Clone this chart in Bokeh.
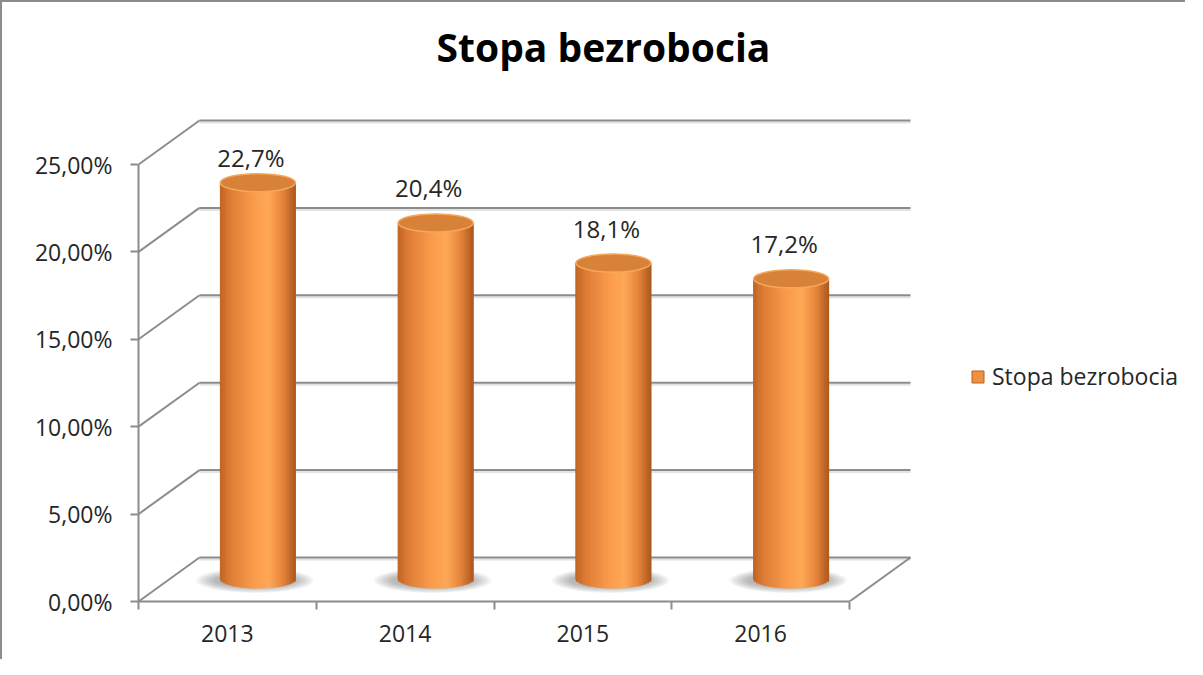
import numpy as np
from bokeh.plotting import figure
from bokeh.models import Range1d, FixedTicker, Legend, LegendItem, LinearAxis
from bokeh.core.properties import value
from bokeh.embed import file_html
from bokeh.resources import INLINE

# ---------------- data ----------------
YEARS = ["2013", "2014", "2015", "2016"]
RATES = [22.7, 20.4, 18.1, 17.2]
Y_TICKS = [0, 5, 10, 15, 20, 25]
Y_TICK_LABELS = ["0,00%", "5,00%", "10,00%", "15,00%", "20,00%", "25,00%"]
SERIES_NAME = "Stopa bezrobocia"
TITLE = "Stopa bezrobocia"

# ---------------- geometry / style ----------------
PX_X = 177.75          # px per category
PX_Y = 17.48           # px per percent
DEPTH_DX_PX = 61
DEPTH_DY_PX = 44
W, H = 1185, 659
BORDER_LEFT = 136
BORDER_BOTTOM = 60
FRAME_W = W - BORDER_LEFT
FRAME_H = H - BORDER_BOTTOM
DX = DEPTH_DX_PX / PX_X
DY = DEPTH_DY_PX / PX_Y
GRAY = "#8c8c8c"
TXT = "#262626"
FONT = "Open Sans"
FS = "23px"

n = len(YEARS)
rates = np.array(RATES, dtype=float)
ticks = np.array(Y_TICKS, dtype=float)

p = figure(width=W, height=H, output_backend="svg", toolbar_location=None, tools="",
           x_range=Range1d(0, FRAME_W / PX_X), y_range=Range1d(0, FRAME_H / PX_Y),
           x_axis_type=None, y_axis_type=None,
           min_border_left=BORDER_LEFT, min_border_right=0,
           min_border_top=0, min_border_bottom=BORDER_BOTTOM)
p.outline_line_color = None
p.background_fill_color = "white"
p.border_fill_color = "white"
p.styles = {"border-left": "2px solid #8c8c8c", "border-top": "2px solid #8c8c8c"}

# ---------------- walls / floor ----------------
p.segment(x0=np.full(len(ticks), DX), y0=ticks + DY - 2 / PX_Y,
          x1=np.full(len(ticks), n + DX), y1=ticks + DY - 2 / PX_Y,
          line_color="#e2e2e2", line_width=2)
p.segment(x0=np.full(len(ticks), DX), y0=ticks + DY,
          x1=np.full(len(ticks), n + DX), y1=ticks + DY,
          line_color=GRAY, line_width=2)
p.segment(x0=np.zeros(len(ticks)), y0=ticks, x1=np.full(len(ticks), DX), y1=ticks + DY,
          line_color=GRAY, line_width=2)
p.segment(x0=[n], y0=[0], x1=[n + DX], y1=[DY], line_color=GRAY, line_width=2)

# ---------------- cylinders ----------------
cx = np.arange(n) + 0.5 + DX / 2
base = DY / 2
R = 37.5 / PX_X
RY = 9 / PX_Y

# soft floor shadow (stack of faint ellipses)
for k in range(10):
    w = 118 - k * 4
    h = 25 - k * 1.2
    p.ellipse(x=cx - 3 / PX_X, y=np.full(n, base - 1 / PX_Y), width=w / PX_X, height=h / PX_Y,
              fill_color="#4a4a4a", fill_alpha=0.045, line_color=None)

body = p.quad(left=cx - R, right=cx + R, bottom=np.full(n, base), top=rates + base,
              fill_color="#f0913f", line_color="#b8621f", line_width=1)

STOPS = [(0.0, (190, 100, 38)), (0.12, (220, 122, 52)), (0.45, (250, 156, 76)),
         (0.65, (255, 168, 86)), (0.84, (228, 130, 58)), (1.0, (170, 88, 30))]


def grad(t):
    for (t0, c0), (t1, c1) in zip(STOPS[:-1], STOPS[1:]):
        if t <= t1:
            f = (t - t0) / (t1 - t0)
            c = [int(round(a + (b - a) * f)) for a, b in zip(c0, c1)]
            return "#%02x%02x%02x" % tuple(c)
    return "#%02x%02x%02x" % STOPS[-1][1]


NS = 32
u_edges = np.linspace(-1, 1, NS + 1)
u_mid = (u_edges[:-1] + u_edges[1:]) / 2
strip_cols = [grad((u + 1) / 2) for u in u_mid]
L, Rr, B, T, C = [], [], [], [], []
for i in range(n):
    L += list(cx[i] + u_edges[:-1] * R)
    Rr += list(cx[i] + u_edges[1:] * R + 0.4 / PX_X)
    B += list(base - RY * np.sqrt(np.clip(1 - u_mid ** 2, 0, 1)))
    T += [rates[i] + base] * NS
    C += strip_cols
p.quad(left=L, right=Rr, bottom=B, top=T, fill_color=C, line_color=None)

p.ellipse(x=cx, y=rates + base, width=2 * R, height=2 * RY,
          fill_color="#d88138", line_color="#f6a85a", line_width=1.5)

# ---------------- value labels ----------------
label_text = [("%.1f" % v).replace(".", ",") + "%" for v in RATES]
label_y = np.minimum(rates + base + 2.0, 25.4)
p.text(x=cx - 7 / PX_X, y=label_y, text=label_text, text_align="center", text_baseline="middle",
       text_font=value(FONT), text_font_size="24px", text_color=TXT)

# ---------------- title ----------------
p.text(x=[(611 - 146) / PX_X], y=[(609 - 54) / PX_Y], text=[TITLE],
       text_align="center", text_baseline="middle",
       text_font=value(FONT), text_font_style="bold", text_font_size="39px", text_color="black")

# ---------------- axes ----------------
yax = LinearAxis(ticker=FixedTicker(ticks=Y_TICKS), bounds=(0, 25))
yax.major_label_overrides = {t: s for t, s in zip(Y_TICKS, Y_TICK_LABELS)}
yax.axis_line_color = GRAY
yax.axis_line_width = 2
yax.major_tick_line_color = GRAY
yax.major_tick_line_width = 2
yax.major_tick_out = 8
yax.major_tick_in = 0
yax.minor_tick_line_color = None
yax.major_label_standoff = 18
yax.major_label_text_font = FONT
yax.major_label_text_font_size = FS
yax.major_label_text_color = TXT
p.add_layout(yax, "left")

centers = [i + 0.5 for i in range(n)]
xax = LinearAxis(ticker=FixedTicker(ticks=centers, minor_ticks=list(range(n + 1))), bounds=(0, n))
xax.major_label_overrides = {c: y for c, y in zip(centers, YEARS)}
xax.axis_line_color = GRAY
xax.axis_line_width = 2
xax.major_tick_line_color = None
xax.major_tick_out = 0
xax.major_tick_in = 0
xax.minor_tick_line_color = GRAY
xax.minor_tick_line_width = 2
xax.minor_tick_out = 8
xax.minor_tick_in = 0
xax.major_label_standoff = 15
xax.major_label_text_font = FONT
xax.major_label_text_font_size = FS
xax.major_label_text_color = TXT
p.add_layout(xax, "below")

# ---------------- legend ----------------
legend = Legend(items=[LegendItem(label=SERIES_NAME, renderers=[body])],
                location=(978 - 146, 609 - 400))
legend.padding = 0
legend.margin = 0
legend.spacing = 0
legend.glyph_width = 15
legend.glyph_height = 15
legend.label_standoff = 7
legend.border_line_color = None
legend.background_fill_alpha = 0
legend.label_text_font = FONT
legend.label_text_font_size = FS
legend.label_text_color = TXT
p.add_layout(legend)

open("out.html", "w").write(file_html(p, INLINE))
